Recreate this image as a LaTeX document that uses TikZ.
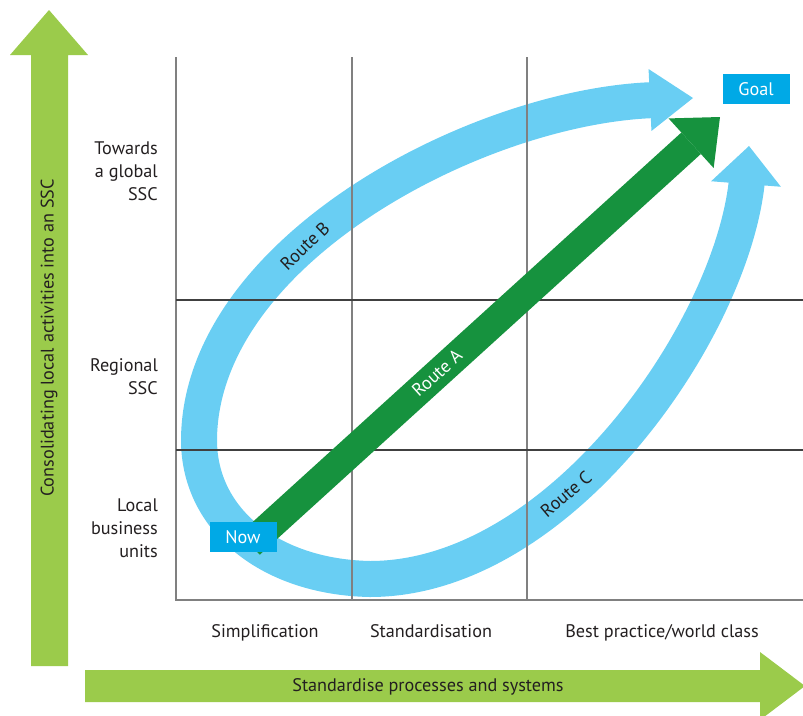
\documentclass[tikz,border=0pt]{standalone}
\usepackage{fontspec}
\setmainfont{PT Sans}
\usetikzlibrary{calc}
\definecolor{axisgreen}{RGB}{155,203,75}
\definecolor{routegreen}{RGB}{22,146,62}
\definecolor{routeblue}{RGB}{105,206,243}
\definecolor{boxblue}{RGB}{0,169,230}
\definecolor{textgray}{RGB}{35,31,32}
\tikzstyle{txt} = [font=\fontsize{18.2}{23}\selectfont, text=textgray, inner sep=0pt]
\tikzstyle{rowlabel} = [txt, align=right, anchor=east]
\tikzstyle{collabel} = [txt, anchor=base]
\tikzstyle{tag} = [txt, text=white, fill=boxblue, minimum width=67pt, minimum height=30pt]
\tikzstyle{band} = [line width=36pt, draw=routeblue]
\tikzstyle{vline} = [line width=1.2pt, draw=gray]
\tikzstyle{hline} = [line width=1.2pt, draw=black!75]

\begin{document}
\begin{tikzpicture}[x=1pt,y=-1pt]
\useasboundingbox (0,0) rectangle (803,715);
%axes
\fill[axisgreen] (31,666) -- (31,55) -- (10,55) -- (49,10) -- (88,55) -- (68,55) -- (68,666) -- cycle;
\fill[axisgreen] (85,670) -- (760,670) -- (760,652) -- (805,686) -- (760,720) -- (760,702) -- (85,702) -- cycle;
\node[txt, rotate=90] (yaxis) at (49,338) {Consolidating local activities into an SSC};
\node[txt] (xaxis) at (428,687) {Standardise processes and systems};

%routes B and C
\draw[band] (656,100) .. controls (480,105) and (200,250) .. (199,440)
  .. controls (199,520) and (270,577) .. (370,579)
  .. controls (560,579) and (732,330) .. (747,180);
\coordinate (tipB) at (693,98);
\coordinate (baseB) at (650,100);
\fill[routeblue] (tipB) -- ($(baseB)!31pt!90:(tipB)$) -- ($(baseB)!31pt!-90:(tipB)$) -- cycle;
\coordinate (tipC) at (749,146);
\coordinate (baseC) at (746,184);
\fill[routeblue] (tipC) -- ($(baseC)!35pt!90:(tipC)$) -- ($(baseC)!35pt!-90:(tipC)$) -- cycle;

%grid
\draw[vline] (176,57) -- (176,600) -- (803,600);
\draw[vline] (352,57) -- (352,600);
\draw[vline] (527,57) -- (527,600);
\draw[hline] (176,300) -- (803,300);
\draw[hline] (176,450) -- (803,450);

%route A
\coordinate (startA) at (250,544);
\coordinate (tipA) at (720,117);
\coordinate (baseA) at ($(tipA)!39pt!(startA)$);
\draw[line width=29pt, routegreen] (startA) -- (baseA);
\fill[routegreen] (tipA) -- ($(baseA)!33.5pt!90:(tipA)$) -- ($(baseA)!33.5pt!-90:(tipA)$) -- cycle;

%labels
\node[rowlabel] (global) at (158,171) {Towards\\a global\\SSC};
\node[rowlabel] (regional) at (158,377) {Regional\\SSC};
\node[rowlabel] (local) at (158,528) {Local\\business\\units};
\node[collabel] (simple) at (265,637) {Simplification};
\node[collabel] (standard) at (431,637) {Standardisation};
\node[collabel] (best) at (662,637) {Best practice/world class};
\node[txt, rotate=44] (routeB) at (305,246) {Route B};
\node[txt, text=white, rotate=42] (routeA) at (437,373) {Route A};
\node[txt, rotate=40] (routeC) at (566,494) {Route C};
\node[tag] (now) at (243,537) {Now};
\node[tag] (goal) at (756,89) {Goal};
\end{tikzpicture}
\end{document}
